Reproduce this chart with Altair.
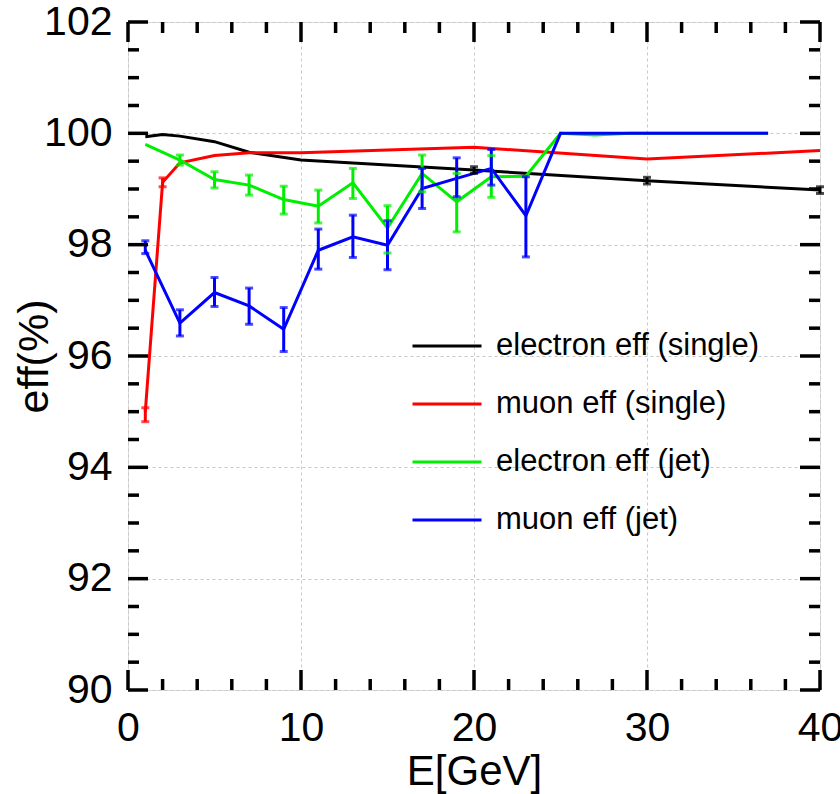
import altair as alt
import pandas as pd

# Beam energies (GeV)
energy_single = [1, 2, 3, 5, 7, 10, 20, 30, 40]
energy_jet = [1, 3, 5, 7, 9, 11, 13, 15, 17, 19, 21, 23, 25, 27, 29, 31, 33, 35, 37]

# Efficiencies (%)
electron_single = [99.94, 99.98, 99.95, 99.85, 99.66, 99.52, 99.34, 99.15, 98.98]
muon_single = [95.00, 99.12, 99.47, 99.60, 99.65, 99.65, 99.75, 99.54, 99.69]
electron_jet = [99.80, 99.52, 99.17, 99.07, 98.81, 98.69, 99.11, 98.30, 99.28, 98.77,
                99.22, 99.23, 100.0, 99.97, 100.0, 100.0, 100.0, 100.0, 100.0]
muon_jet = [97.90, 96.59, 97.14, 96.90, 96.48, 97.90, 98.14, 97.99, 99.01, 99.19,
            99.37, 98.52, 100.0, 100.0, 100.0, 100.0, 100.0, 100.0, 100.0]

# Uncertainty bands (low / high), None where no bar is drawn
electron_single_lo = [None, None, None, None, None, None, 99.28, 99.09, 98.92]
electron_single_hi = [None, None, None, None, None, None, 99.40, 99.21, 99.04]
muon_single_lo = [94.82, 99.04, None, None, None, None, None, None, None]
muon_single_hi = [95.07, 99.20, None, None, None, None, None, None, None]
electron_jet_lo = [None, 99.43, 99.02, 98.89, 98.55, 98.39, 98.83, 97.85, 98.95, 98.23,
                   98.85, None, None, None, None, None, None, None, None]
electron_jet_hi = [None, 99.61, 99.31, 99.25, 99.05, 98.98, 99.37, 98.70, 99.61, 99.28,
                   99.60, None, None, None, None, None, None, None, None]
muon_jet_lo = [97.84, 96.36, 96.89, 96.57, 96.08, 97.56, 97.77, 97.55, 98.65, 98.86,
               99.07, 97.78, None, None, None, None, None, None, None]
muon_jet_hi = [98.07, 96.83, 97.41, 97.22, 96.87, 98.28, 98.53, 98.43, 99.37, 99.56,
               99.71, 99.22, None, None, None, None, None, None, None]

series_names = ["electron eff (single)", "muon eff (single)",
                "electron eff (jet)", "muon eff (jet)"]
series_colors = ["#000000", "#ff0000", "#00ee00", "#0000ff"]

# Axis tick positions
x_major = [0, 10, 20, 30, 40]
x_minor = [2, 4, 6, 8, 12, 14, 16, 18, 22, 24, 26, 28, 32, 34, 36, 38]
y_major = [90, 92, 94, 96, 98, 100, 102]
y_minor = [90.5, 91, 91.5, 92.5, 93, 93.5, 94.5, 95, 95.5, 96.5, 97, 97.5,
           98.5, 99, 99.5, 100.5, 101, 101.5]

W, H = 692, 668
FONT = "Liberation Sans"

groups = [
    (series_names[0], energy_single, electron_single, electron_single_lo, electron_single_hi),
    (series_names[1], energy_single, muon_single, muon_single_lo, muon_single_hi),
    (series_names[2], energy_jet, electron_jet, electron_jet_lo, electron_jet_hi),
    (series_names[3], energy_jet, muon_jet, muon_jet_lo, muon_jet_hi),
]

line_rows, err_rows = [], []
for order, (name, es, vals, los, his) in enumerate(groups):
    for e, v, lo, hi in zip(es, vals, los, his):
        line_rows.append({"E": e, "eff": v, "series": name, "order": order})
        if lo is not None:
            err_rows.append({"E": e, "lo": lo, "hi": hi, "series": name, "order": order})
lines_df = pd.DataFrame(line_rows)
err_df = pd.DataFrame(err_rows)

xs = alt.Scale(domain=[0, 40], nice=False, zero=False)
ys = alt.Scale(domain=[90, 102], nice=False, zero=False)
cs = alt.Scale(domain=series_names, range=series_colors)

x_axis = alt.Axis(
    title="E[GeV]", values=x_major, format="d", ticks=False, tickSize=0, domain=False,
    grid=True, gridColor="#c8c8c8", gridDash=[3, 3], gridWidth=1,
    labelFont=FONT, labelFontSize=41, labelColor="black", labelFlush=False,
    labelOverlap=False, labelBaseline="alphabetic", labelPadding=50,
    titleFont=FONT, titleFontSize=42, titleFontWeight="normal", titleColor="black",
    titleX=346, titleY=94, titleBaseline="alphabetic",
)
y_axis = alt.Axis(
    title="eff(%)", values=y_major, format="d", ticks=False, tickSize=0, domain=False,
    grid=True, gridColor="#c8c8c8", gridDash=[3, 3], gridWidth=1,
    labelFont=FONT, labelFontSize=41, labelColor="black", labelFlush=False,
    labelOverlap=False, labelPadding=16,
    titleFont=FONT, titleFontSize=43, titleFontWeight="normal", titleColor="black",
    titleX=-94, titleY=H / 2, titleAngle=-90, titleBaseline="middle", titleAlign="center",
)

legend = alt.Legend(
    title=None, orient="none", legendX=283, legendY=288, padding=0,
    symbolType="stroke", symbolSize=4761, symbolStrokeWidth=3,
    labelFont=FONT, labelFontSize=31, labelColor="black", labelLimit=500,
    labelOffset=13, rowPadding=7,
)

lines = alt.Chart(lines_df).mark_line(strokeWidth=3).encode(
    x=alt.X("E:Q", scale=xs, axis=x_axis),
    y=alt.Y("eff:Q", scale=ys, axis=y_axis),
    color=alt.Color("series:N", scale=cs, legend=legend),
    order=alt.Order("E:Q"),
    detail="order:O",
)

err_base = alt.Chart(err_df)
err_rule = err_base.mark_rule(strokeWidth=3).encode(
    x=alt.X("E:Q", scale=xs, axis=x_axis),
    y=alt.Y("lo:Q", scale=ys, axis=y_axis),
    y2="hi:Q",
    color=alt.Color("series:N", scale=cs, legend=None),
)
err_cap_lo = err_base.mark_tick(orient="horizontal", size=8, thickness=3).encode(
    x=alt.X("E:Q", scale=xs, axis=x_axis),
    y=alt.Y("lo:Q", scale=ys, axis=y_axis),
    color=alt.Color("series:N", scale=cs, legend=None),
)
err_cap_hi = err_base.mark_tick(orient="horizontal", size=8, thickness=3).encode(
    x=alt.X("E:Q", scale=xs, axis=x_axis),
    y=alt.Y("hi:Q", scale=ys, axis=y_axis),
    color=alt.Color("series:N", scale=cs, legend=None),
)

# Inward ticks on all four sides of the frame
def x_ticks(vals, length):
    df = pd.DataFrame({"v": vals})
    bottom = alt.Chart(df).mark_rule(color="black", strokeWidth=3.5).encode(
        x=alt.X("v:Q", scale=xs, axis=x_axis), y=alt.value(H), y2=alt.value(H - length))
    top = alt.Chart(df).mark_rule(color="black", strokeWidth=3.5).encode(
        x=alt.X("v:Q", scale=xs, axis=x_axis), y=alt.value(0), y2=alt.value(length))
    return [bottom, top]

def y_ticks(vals, length):
    df = pd.DataFrame({"v": vals})
    left = alt.Chart(df).mark_rule(color="black", strokeWidth=3.5).encode(
        y=alt.Y("v:Q", scale=ys, axis=y_axis), x=alt.value(0), x2=alt.value(length))
    right = alt.Chart(df).mark_rule(color="black", strokeWidth=3.5).encode(
        y=alt.Y("v:Q", scale=ys, axis=y_axis), x=alt.value(W - length), x2=alt.value(W))
    return [left, right]

tick_layers = x_ticks(x_major, 20) + x_ticks(x_minor, 11) + y_ticks(y_major, 20) + y_ticks(y_minor, 11)

chart = alt.layer(lines, err_rule, err_cap_lo, err_cap_hi, *tick_layers).properties(
    width=W, height=H,
    autosize=alt.AutoSizeParams(type="none"),
    padding={"left": 128, "top": 22, "right": 20, "bottom": 104},
).configure_view(
    stroke="black", strokeWidth=4
).configure(background="white")

chart.save("out.html", embed_options={"renderer": "svg", "actions": False})
